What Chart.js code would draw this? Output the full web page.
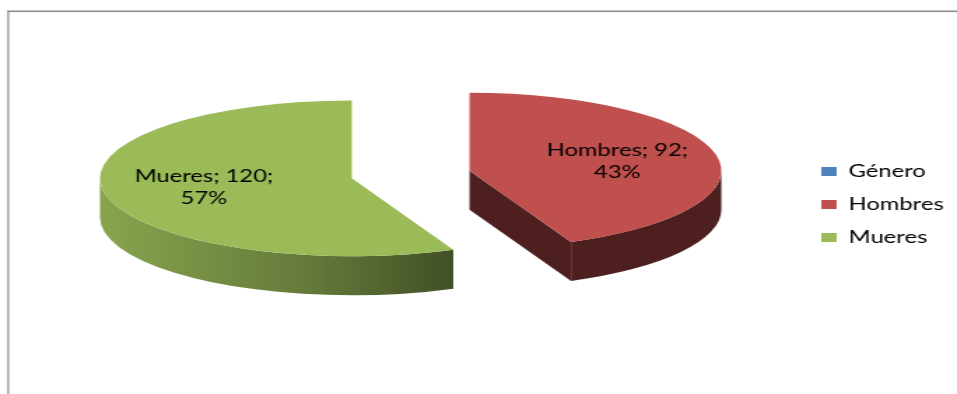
<!DOCTYPE html>
<html>

<head>
    <title>Género</title>
    <meta charset="utf-8" />
    <style>
        html, body { margin: 0; padding: 0; background: #fff; overflow: hidden; }
        /* the chart is laid out narrow and stretched sideways */
        #wrap { width: 684px; height: 394px; transform: scaleX(1.3991); transform-origin: 0 0; }
    </style>
</head>

<body>
    <div id="wrap">
        <canvas id="myChart" width="684" height="394"></canvas>
    </div>

    <script src="https://cdn.jsdelivr.net/npm/chart.js"></script>
    <script type="text/javascript">
        const labels = ['Género', 'Hombres', 'Mueres'];
        const values = [null, 92, 120];
        const colors = ['#4F81BD', '#C0504D', '#9BBB59'];

        // 3D look of the pie
        const TILT = 0.433;    // squash of the top face
        const DEPTH = 39;      // thickness
        const EXPLODE = 43;    // how far each slice is pulled out
        const LIFT = -30;      // top face sits above the middle of the plot
        const LABEL_AT = 0.6;  // label distance, fraction of radius

        function shade(hex, f) {
            const n = parseInt(hex.slice(1), 16);
            const r = Math.round(((n >> 16) & 255) * f);
            const g = Math.round(((n >> 8) & 255) * f);
            const b = Math.round((n & 255) * f);
            return `rgb(${r},${g},${b})`;
        }

        const frame = {
            id: 'frame',
            beforeDraw(chart) {
                const ctx = chart.ctx;
                ctx.save();
                ctx.fillStyle = '#8c8c8c';
                ctx.fillRect(5.3, 10.5, 1.2, chart.height);
                ctx.fillRect(5.3, 10.5, chart.width, 1.6);
                ctx.restore();
            }
        };

        const pie3d = {
            id: 'pie3d',
            beforeDatasetsDraw(chart) {
                const ctx = chart.ctx;
                const meta = chart.getDatasetMeta(0);
                const total = values.reduce((s, v) => s + (v || 0), 0);

                const slices = [];
                meta.data.forEach((arc, i) => {
                    if (!(arc.circumference > 0)) return;
                    const mid = (arc.startAngle + arc.endAngle) / 2;
                    slices.push({
                        arc, i, mid,
                        cx: arc.x + Math.cos(mid) * EXPLODE,
                        cy: arc.y + LIFT + Math.sin(mid) * EXPLODE * TILT,
                        r: arc.outerRadius
                    });
                });

                // walls first
                slices.forEach((s) => {
                    const a0 = s.arc.startAngle, a1 = s.arc.endAngle;
                    const grad = ctx.createLinearGradient(s.arc.x - s.r - EXPLODE, 0, s.arc.x + EXPLODE, 0);
                    grad.addColorStop(0, shade(colors[s.i], 0.88));
                    grad.addColorStop(0.55, shade(colors[s.i], 0.66));
                    grad.addColorStop(1, shade(colors[s.i], 0.4));
                    ctx.save();
                    ctx.fillStyle = grad;

                    const radial = (a) => {
                        const x = s.cx + Math.cos(a) * s.r;
                        const y = s.cy + Math.sin(a) * s.r * TILT;
                        ctx.beginPath();
                        ctx.moveTo(s.cx, s.cy);
                        ctx.lineTo(x, y);
                        ctx.lineTo(x, y + DEPTH);
                        ctx.lineTo(s.cx, s.cy + DEPTH);
                        ctx.closePath();
                        ctx.fill();
                    };
                    if (Math.cos(a0) < -1e-6) radial(a0);
                    if (Math.cos(a1) > 1e-6) radial(a1);

                    // rim, only the front half shows
                    for (let base = -2 * Math.PI; base <= 2 * Math.PI; base += 2 * Math.PI) {
                        const st = Math.max(a0, base), en = Math.min(a1, base + Math.PI);
                        if (en <= st) continue;
                        ctx.beginPath();
                        ctx.ellipse(s.cx, s.cy, s.r, s.r * TILT, 0, st, en);
                        ctx.ellipse(s.cx, s.cy + DEPTH, s.r, s.r * TILT, 0, en, st, true);
                        ctx.closePath();
                        ctx.fill();
                    }
                    ctx.restore();
                });

                // top faces, drawn by the arc elements themselves
                slices.forEach((s) => {
                    ctx.save();
                    ctx.translate(s.cx, s.cy);
                    ctx.scale(1, TILT);
                    ctx.translate(-s.arc.x, -s.arc.y);
                    s.arc.draw(ctx);
                    ctx.restore();
                });

                // data labels
                ctx.save();
                ctx.fillStyle = '#000';
                ctx.font = '17px Lato';
                ctx.textAlign = 'center';
                ctx.textBaseline = 'middle';
                slices.forEach((s) => {
                    const v = values[s.i];
                    const lx = s.cx + Math.cos(s.mid) * s.r * LABEL_AT;
                    const ly = s.cy + Math.sin(s.mid) * s.r * LABEL_AT * TILT;
                    ctx.fillText(`${labels[s.i]}; ${v};`, lx, ly - 11);
                    ctx.fillText(Math.round(v / total * 100) + '%', lx, ly + 11);
                });
                ctx.restore();

                return false;
            }
        };

        new Chart(document.getElementById('myChart'), {
            type: 'pie',
            data: {
                labels: labels,
                datasets: [{
                    data: values,
                    backgroundColor: colors,
                    borderWidth: 0,
                    clip: false
                }]
            },
            options: {
                responsive: false,
                animation: false,
                events: [],
                radius: 180,
                layout: {
                    padding: { left: 16, right: 0, top: 15, bottom: 0 }
                },
                plugins: {
                    legend: {
                        position: 'right',
                        maxWidth: 113,
                        labels: {
                            boxWidth: 11,
                            boxHeight: 9,
                            padding: 16,
                            color: '#000',
                            font: { family: 'Lato', size: 17 }
                        }
                    },
                    tooltip: { enabled: false }
                }
            },
            plugins: [frame, pie3d]
        });
    </script>
</body>

</html>
